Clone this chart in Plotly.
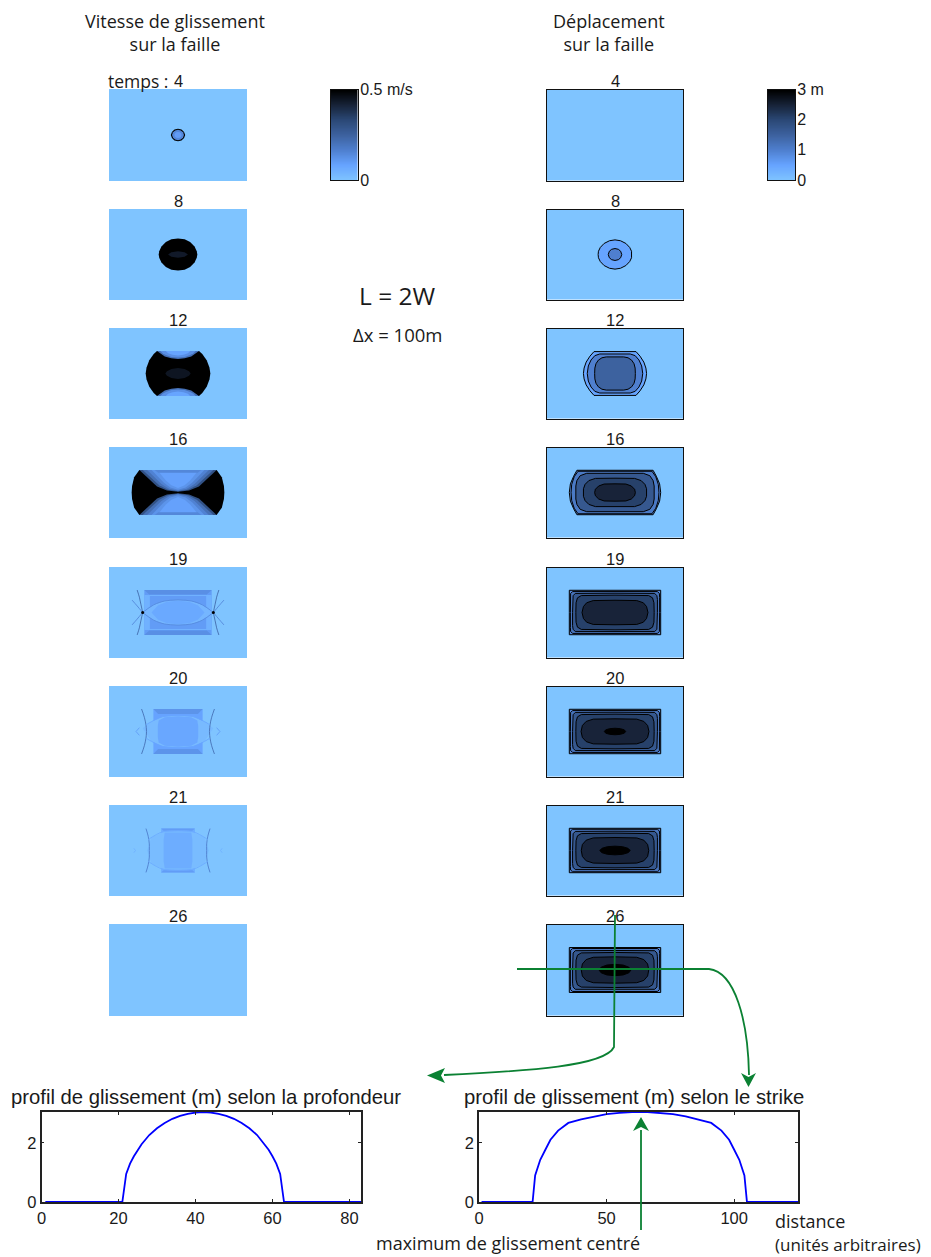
import plotly.graph_objects as go

W, H = 931, 1257
PAGE = 8  # the page body adds this margin in front of the figure

# --- data ---
times = [4, 8, 12, 16, 19, 20, 21, 26]
panel_tops = [89, 209, 328, 447, 567, 686, 805, 924]
panel_bottoms = [181, 300, 419, 538, 658, 777, 896, 1016]
strike_len = 125
depth_len = 83

depth_dist = [1, 21, 22, 23, 24, 25, 26, 28, 30, 32, 34, 36, 38, 40, 42, 44, 46, 48, 50, 52, 54, 56, 58, 59, 60, 61, 62, 63, 83]
depth_slip = [0, 0, 0.95, 1.3, 1.55, 1.77, 1.96, 2.27, 2.5, 2.68, 2.82, 2.92, 2.99, 3.03, 3.05, 3.03, 2.99, 2.92, 2.82, 2.68, 2.5, 2.27, 1.96, 1.77, 1.55, 1.3, 0.95, 0, 0]
strike_dist = [1, 21, 22, 24, 26, 28, 31, 35, 40, 45, 50, 55, 60, 66, 71, 76, 81, 86, 91, 95, 98, 100, 102, 104, 105, 125]
strike_slip = [0, 0, 0.9, 1.43, 1.77, 2.11, 2.42, 2.68, 2.8, 2.9, 2.98, 3.02, 3.05, 3.05, 3.02, 2.98, 2.9, 2.8, 2.68, 2.42, 2.11, 1.77, 1.43, 0.9, 0, 0]

ramp_stops = [0, 0.17, 0.33, 0.5, 0.667, 0.83, 1]
ramp_colors = ["#7fc4ff", "#66a3ff", "#4f80d0", "#3d629f", "#2b4876", "#18243a", "#000000"]

# slip contours, quarter outlines around the rupture centre (level in m)
disp_8 = [(0.5, "ring", [(0, 13.5), (5, 12.7), (10, 10.2), (13.5, 6.5), (15.2, 3), (15.5, 0)]),
          (1, "ring", [(0, 5.5), (3.1, 4.8), (5.2, 3), (6.2, 0)])]
disp_12 = [(0.5, "ring", [(0, 20.2), (19.3, 20.2), (23, 16), (26.5, 10.5), (28.4, 5), (29, 0)]),
           (1, "ring", [(0, 18), (14, 18), (18.5, 16.5), (22, 12.5), (24.5, 7), (25.5, 0)]),
           (1.5, "ring", [(0, 15.3), (8, 15.3), (12, 14.5), (15.3, 12.3), (17.5, 9), (18.5, 5), (18.7, 0)])]
disp_16 = [(0.8, "ring", [(0, 20.5), (35, 20.5), (38, 15), (41, 8), (42, 0)]),
           (1.1, "ring", [(0, 19.6), (34, 19.6), (37.5, 14.5), (39.8, 7.5), (40.4, 0)]),
           (1.7, "ring", [(0, 17.7), (26, 17.7), (32, 15.5), (35, 11), (36, 6), (36.2, 0)]),
           (2.1, "ring", [(0, 13.2), (18, 13), (24, 11), (27.5, 7.5), (29, 3.5), (29, 0)]),
           (2.5, "ring", [(0, 8), (10, 7.8), (15, 6), (18, 3), (18.7, 0)])]
disp_19 = [(0.9, "ring", [(0, 20.5), (42, 20.5), (42, 0)]),
           (1.2, "ring", [(0, 19.3), (39, 19.3), (40.8, 17.5), (41, 14), (41, 0)]),
           (1.7, "ring", [(0, 17.8), (36.5, 17.6), (38.5, 15.5), (39, 12), (39, 0)]),
           (2.1, "ring", [(0, 16), (31, 15.6), (34.5, 13.5), (35.8, 9), (36, 0)]),
           (2.5, "ring", [(0, 11.3), (20, 11), (26, 9), (29, 5.5), (30.3, 0)])]
disp_20 = [(0.9, "ring", [(0, 20.5), (42, 20.5), (42, 0)]),
           (1.2, "ring", [(0, 19.3), (39, 19.3), (40.8, 17.5), (41, 14), (41, 0)]),
           (1.7, "ring", [(0, 17.8), (36.5, 17.6), (38.5, 15.5), (39, 12), (39, 0)]),
           (2.1, "ring", [(0, 16), (31, 15.6), (34.5, 13.5), (35.8, 9), (36, 0)]),
           (2.5, "ring", [(0, 11.7), (20, 11.4), (26.5, 9.3), (30, 5.5), (31.2, 0)]),
           (3, "ring", [(0, 3), (5, 2.6), (8.5, 1.5), (9.8, 0)])]
disp_21 = [(0.9, "ring", [(0, 20.5), (42, 20.5), (42, 0)]),
           (1.2, "ring", [(0, 19.6), (39, 19.6), (40.8, 18), (41, 15), (41, 0)]),
           (1.7, "ring", [(0, 17.8), (36.5, 17.6), (38.5, 15.5), (39, 12), (39, 0)]),
           (2.1, "ring", [(0, 16), (31, 15.6), (34.5, 13.5), (35.8, 9), (36, 0)]),
           (2.5, "ring", [(0, 12), (20, 11.6), (26.5, 9.5), (30, 5.5), (31, 0)]),
           (3, "ring", [(0, 4), (7, 3.5), (12, 2), (14, 0)])]
disp_26 = [(0.9, "ring", [(0, 20.5), (42, 20.5), (42, 0)]),
           (1.2, "ring", [(0, 19.6), (39, 19.6), (40.8, 18), (41, 15), (41, 0)]),
           (1.7, "ring", [(0, 17.8), (36.5, 17.6), (38.5, 15.5), (39, 12), (39, 0)]),
           (2.1, "ring", [(0, 16), (31, 15.6), (34.5, 13.5), (35.8, 9), (36, 0)]),
           (2.5, "ring", [(0, 12), (20, 11.6), (26.5, 9.5), (30, 5.5), (31, 0)]),
           (3, "ring", [(0, 5.2), (7.5, 4.5), (12.7, 2.6), (14.7, 0)])]
disp_panels = [[], disp_8, disp_12, disp_16, disp_19, disp_20, disp_21, disp_26]

# slip rate patches, level as a fraction of 0.5 m/s
rate_4 = [(1, "ring", [(0, 5.6), (3.2, 4.9), (5.5, 2.8), (6.5, 0)]),
          (0.3, "ring", [(0, 4.7), (2.6, 4.1), (4.5, 2.4), (5.4, 0)]),
          (0.2, "ring", [(0, 2.8), (1.6, 2.4), (2.8, 1.4), (3.3, 0)])]
rate_8 = [(1, "ring", [(0, 14.5), (6, 14), (11, 11.5), (15, 7.2), (17, 3), (17.5, 0)]),
          (0.88, "ring", [(0, 3), (6, 2), (9, 0)])]
rate_12 = [(1, "ring", [(0, 20.5), (19, 20.5), (22, 17.7), (26, 12), (28.5, 5.5), (29.3, 0)]),
           (0.42, "cap", [(0, 13.2), (6, 13.8), (12, 15.5), (16, 18), (19, 20.5)]),
           (0.26, "cap", [(0, 14.5), (6, 15), (11, 16.8), (14, 18.5), (16, 20.5)]),
           (0.16, "cap", [(0, 16.5), (5, 17), (9, 18.5), (11, 20.5)]),
           (0.9, "ring", [(0, 5), (6, 4), (10, 2), (11.5, 0)])]
rate_16 = [(1, "ring", [(0, 20.5), (35, 20.5), (39.7, 13.8), (41.6, 6), (42, 0)]),
           (0.6, "cap", [(0, 0.6), (10, 1.8), (19, 5.5), (27.5, 13.5), (35, 20.5)]),
           (0.42, "cap", [(0, 1.1), (9, 2.5), (17, 6.5), (25, 14), (32, 20.5)]),
           (0.32, "cap", [(0, 1.6), (8, 3.4), (15, 7.8), (22, 14.5), (28, 20.5)]),
           (0.24, "cap", [(0, 2.5), (7, 4.6), (13, 9.2), (19, 15.5), (24, 20.5)]),
           (0.18, "cap", [(0, 4), (6, 6.5), (11, 11), (16, 17), (18, 20.5)]),
           (0.3, "cap", [(0, 18), (18, 18), (21, 20.5)])]
rate_19 = [(0.2, "ring", [(0, 20.5), (30.5, 20.5), (30.5, 0)]),
           (0.26, "cap", [(0, 16.5), (26, 16.5), (30.5, 20.5)]),
           (0.1, "ring", [(0, 16), (30.5, 16), (30.5, 0)]),
           (0.2, "ring", [(0, 15), (25.5, 15), (25.5, 0)]),
           (0.07, "ring", [(0, 11.5), (12, 10.5), (22, 7), (32, 0)]),
           (0.14, "ring", [(0, 10.8), (10, 9.8), (18, 6.5), (24, 0)])]
rate_20 = [(0.17, "ring", [(0, 20.5), (22.3, 20.5), (22.3, 0)]),
           (0.24, "cap", [(0, 16), (18, 16), (22.3, 20.5)]),
           (0.05, "ring", [(0, 14.7), (14, 13.5), (24, 9), (32, 3)]),
           (0.15, "ring", [(0, 14), (12, 13), (17.5, 10), (18.3, 5), (18.3, 0)])]
rate_21 = [(0.12, "ring", [(0, 20), (15.3, 20), (15.3, 0)]),
           (0.2, "cap", [(0, 18), (13, 18), (15.3, 20)]),
           (0.04, "ring", [(0, 17.5), (13, 16.8), (24, 12), (28, 0)]),
           (0.12, "ring", [(0, 16.5), (12, 16.5), (13, 10), (13, 0)])]
rate_panels = [rate_4, rate_8, rate_12, rate_16, rate_19, rate_20, rate_21, []]

# thin fronts of the slip rate panels
front_19 = [(0.45, [(37, 20.5), (35, 14), (33.5, 7), (32, 0)]), (0.3, [(32, 0), (37, 6), (41.6, 11.3)]),
            (0.28, [(0, 11.5), (12, 10.5), (22, 7), (32, 0)])]
front_20 = [(0.42, [(33, 20.5), (30.5, 13), (29, 6), (28.5, 0)]), (0.16, [(0, 14.7), (14, 13.5), (24, 9), (29, 6)]),
            (0.2, [(35, 3.5), (38, 0)])]
front_21 = [(0.34, [(29, 20), (27, 13), (26, 6), (26, 0)]), (0.13, [(0, 18), (14, 17), (27, 10)]),
            (0.1, [(40, 2), (38.5, 0)])]
rate_fronts = [[], [], [], [], front_19, front_20, front_21, []]
dots_19 = [(1, 32, 0)]

# --- helpers ---
pid = 0
traces, axes = [], {}
base_z = [[0, 0], [0, 0]]
ramp_scale = [[s, c] for s, c in zip(ramp_stops, ramp_colors)]
FW, FH = W - PAGE, H - PAGE


def fx(x):
    return (x - PAGE) / FW


def fy(y):
    return 1 - (y - PAGE) / FH


def tone(v):
    for i in range(len(ramp_stops) - 1):
        if v <= ramp_stops[i + 1]:
            t = (v - ramp_stops[i]) / (ramp_stops[i + 1] - ramp_stops[i])
            a = ramp_colors[i]
            b = ramp_colors[i + 1]
            rgb = [round(int(a[k:k + 2], 16) * (1 - t) + int(b[k:k + 2], 16) * t) for k in (1, 3, 5)]
            return "rgb(%d,%d,%d)" % tuple(rgb)
    return ramp_colors[-1]


def new_axes(x0, x1, y0, y1, xr, yr, xopts=None, yopts=None):
    global pid
    pid += 1
    suffix = "" if pid == 1 else str(pid)
    base = dict(showgrid=False, zeroline=False, showticklabels=False, ticks="", fixedrange=True, automargin=False)
    axes["xaxis" + suffix] = {**base, "domain": [fx(x0), fx(x1)], "range": xr, "anchor": "y" + suffix, **(xopts or {})}
    axes["yaxis" + suffix] = {**base, "domain": [fy(y1), fy(y0)], "range": yr, "anchor": "x" + suffix, **(yopts or {})}
    return "x" + suffix, "y" + suffix


def ring(q):
    pts = list(q) + [(x, -y) for x, y in reversed(q)][1:]
    pts += [(-x, y) for x, y in reversed(pts)][1:-1]
    return pts


def patch(color, kind, q, xa, ya, outline):
    cx, cy = strike_len / 2, depth_len / 2
    if kind == "cap":
        top = list(q) + [(-x, y) for x, y in reversed(q[1:])]
        pieces = [top, [(x, -y) for x, y in top]]
    else:
        pieces = [ring(q)]
    for p in pieces:
        p = p + [p[0]]
        traces.append(go.Scatter(x=[cx + a for a, b in p], y=[cy + b for a, b in p], xaxis=xa, yaxis=ya,
                                 mode="lines", fill="toself", fillcolor=color, hoverinfo="skip",
                                 line=dict(color="#000000" if outline else color, width=1 if outline else 0)))


def front(level, path, xa, ya):
    cx, cy = strike_len / 2, depth_len / 2
    for sx in (1, -1):
        for sy in (1, -1):
            traces.append(go.Scatter(x=[cx + sx * a for a, b in path], y=[cy + sy * b for a, b in path],
                                     xaxis=xa, yaxis=ya, mode="lines", hoverinfo="skip",
                                     line=dict(color=tone(level), width=0.9, shape="spline")))


annotations, shapes = [], []


def label(x, y, text, size, font="Liberation Sans", anchor="center"):
    annotations.append(dict(x=fx(x), y=fy(y), xref="paper", yref="paper", text=text, showarrow=False,
                            xanchor=anchor, yanchor="middle", align=anchor, borderpad=0, borderwidth=0,
                            font=dict(family=font, size=size, color="#1a1a1a")))


def green_path(d, filled=False):
    shapes.append(dict(type="path", path=d, xref="paper", yref="paper",
                       line=dict(color="#0b8133", width=0 if filled else 1.8),
                       fillcolor="#0b8133" if filled else None))


def px(*pts):
    return " ".join("%s%.5f,%.5f" % (c, fx(x), fy(y)) for c, x, y in pts)


# --- panels ---
for i, t in enumerate(times):
    xa, ya = new_axes(109, 247, panel_tops[i], panel_bottoms[i], [0, strike_len], [0, depth_len])
    traces.append(go.Heatmap(x=[0, strike_len], y=[0, depth_len], z=base_z, xaxis=xa, yaxis=ya, colorscale=ramp_scale,
                             zmin=0, zmax=1, showscale=False, hoverinfo="skip"))
    for level, kind, q in rate_panels[i]:
        patch(tone(level), kind, q, xa, ya, False)
    for level, path in rate_fronts[i]:
        front(level, path, xa, ya)
    if t == 19:
        for level, dx, dy in dots_19:
            traces.append(go.Scatter(x=[strike_len / 2 - dx, strike_len / 2 + dx], y=[depth_len / 2 + dy] * 2,
                                     xaxis=xa, yaxis=ya, mode="markers", hoverinfo="skip",
                                     marker=dict(color=tone(level), size=3)))
    label(178, panel_tops[i] - 8, str(t), 16.5)

for i, t in enumerate(times):
    line = dict(showline=True, linecolor="#111111", linewidth=1, mirror=True)
    xa, ya = new_axes(547, 683, panel_tops[i] + 0.5, panel_bottoms[i] - 0.5, [0, strike_len], [0, depth_len], line, line)
    traces.append(go.Heatmap(x=[0, strike_len], y=[0, depth_len], z=base_z, xaxis=xa, yaxis=ya, colorscale=ramp_scale,
                             zmin=0, zmax=1, showscale=False, hoverinfo="skip"))
    for level, kind, q in disp_panels[i]:
        patch(tone(level / 3), kind, q, xa, ya, True)
    label(615, panel_tops[i] - 8, str(t), 16.5)

# --- colour bars ---
ramp_z = [i / 60 for i in range(61)]
bars = [(330.5, 358, [0, 0.5], [0, 0.5], ["0", "0.5 m/s"]),
        (767.5, 795, [0, 3], [0, 1, 2, 3], ["0", "1", "2", "3 m"])]
for x0, x1, rng, vals, names in bars:
    line = dict(showline=True, linecolor="#111111", linewidth=1, mirror=True)
    xa, ya = new_axes(x0, x1, 89.5, 180, [0, 1], rng, line,
                      dict(line, side="right", showticklabels=True, tickvals=vals, ticktext=names, ticklabelstandoff=-2,
                           tickfont=dict(family="Liberation Sans", size=16, color="#1a1a1a")))
    traces.append(go.Heatmap(x=[0, 1], y=[v * rng[1] for v in ramp_z], z=[[v, v] for v in ramp_z], xaxis=xa, yaxis=ya,
                             colorscale=ramp_scale, zmin=0, zmax=1, showscale=False, hoverinfo="skip", zsmooth="best"))

# --- slip profiles ---
profile_axis = dict(showline=True, linecolor="#222222", linewidth=1.5, mirror="allticks", ticks="inside", ticklen=3,
                    tickcolor="#222222", showticklabels=True,
                    tickfont=dict(family="Liberation Sans", size=16.5, color="#1a1a1a"))
profiles = [(41.5, 361, depth_dist, depth_slip, [0, 83], [0, 20, 40, 60, 80]),
            (479, 798, strike_dist, strike_slip, [0, 125], [0, 50, 100])]
for x0, x1, xs, ys, xr, xt in profiles:
    xa, ya = new_axes(x0, x1, 1112, 1202, xr, [0, 3.05], dict(profile_axis, tickvals=xt),
                      dict(profile_axis, tickvals=[0, 2]))
    traces.append(go.Scatter(x=xs, y=ys, xaxis=xa, yaxis=ya, mode="lines", hoverinfo="skip", cliponaxis=False,
                             line=dict(color="#0000ff", width=1.8)))

# --- texts ---
MY = "Open Sans"
label(175, 32, "Vitesse de glissement<br>sur la faille", 18, MY)
label(609, 32, "Déplacement<br>sur la faille", 18, MY)
label(108, 81, "temps :", 17.5, MY, "left")
label(397.5, 295, "L = 2W", 24.5, MY)
label(397, 335, "Δx = 100m", 18.5, MY)
label(11, 1097, "profil de glissement (m) selon la profondeur", 20.3, "Liberation Sans", "left")
label(464, 1097, "profil de glissement (m) selon le strike", 20.3, "Liberation Sans", "left")
label(376, 1243, "maximum de glissement centré", 18, MY, "left")
label(775, 1221, "distance", 18, MY, "left")
label(775, 1244, "(unités arbitraires)", 17, MY, "left")

# --- green arrows ---
green_path(px(("M", 615, 915), ("L", 614, 1047), ("C", 605, 1066), ("", 530, 1071), ("", 444, 1075)))
green_path(px(("M", 517, 969), ("L", 709, 969), ("C", 735, 972), ("", 748, 1020), ("", 749, 1075)))
green_path(px(("M", 641, 1230), ("L", 641, 1130)))
green_path(px(("M", 427, 1075.6), ("L", 445, 1068), ("L", 441, 1075.6), ("L", 445, 1083)) + " Z", True)
green_path(px(("M", 748.5, 1087), ("L", 741, 1073), ("L", 748.5, 1077), ("L", 756, 1073)) + " Z", True)
green_path(px(("M", 641, 1117), ("L", 633, 1131), ("L", 641, 1127), ("L", 649, 1131)) + " Z", True)

fig = go.Figure(traces)
fig.update_layout(width=FW, height=FH, autosize=False, margin=dict(l=0, r=0, t=0, b=0), showlegend=False,
                  paper_bgcolor="white", plot_bgcolor="white", annotations=annotations, shapes=shapes, **axes)
fig.write_html("out.html")
